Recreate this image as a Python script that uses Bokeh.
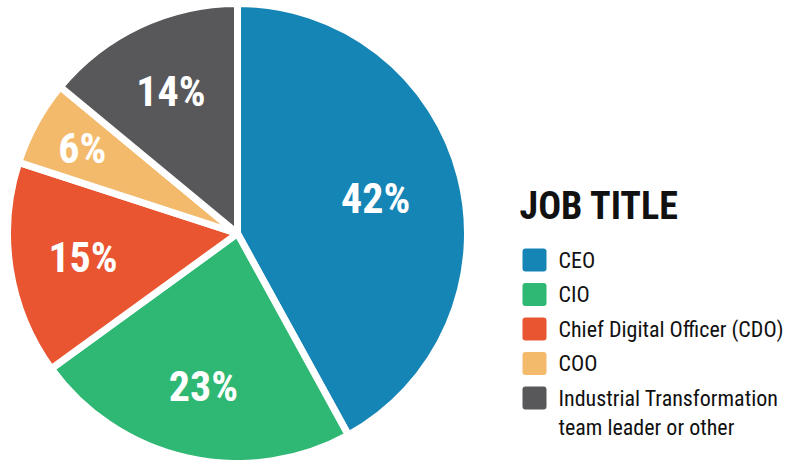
import numpy as np
from bokeh.plotting import figure
from bokeh.models import Range1d, ColumnDataSource
from bokeh.core.properties import value
from bokeh.embed import file_html
from bokeh.resources import INLINE

# ---- data ----
categories = ["CEO", "CIO", "Chief Digital Officer (CDO)", "COO",
              "Industrial Transformation\nteam leader or other"]
shares = [42, 23, 15, 6, 14]
colors = ["#1585B5", "#2EB873", "#E85530", "#F3BA6C", "#58585A"]
legend_title = "JOB TITLE"

# label placement (radial fraction of radius) - layout only
label_r = [0.62, 0.68, 0.68, 0.77, 0.68]

FONT = "'Roboto Condensed', 'Liberation Sans Narrow', Roboto, sans-serif"

W, H = 788, 460
p = figure(width=W, height=H, x_range=Range1d(0, W), y_range=Range1d(0, H),
           output_backend="svg", toolbar_location=None, min_border=0,
           x_axis_type=None, y_axis_type=None)
p.grid.visible = False
p.outline_line_color = None
p.background_fill_color = "white"
p.border_fill_color = "white"

# ---- pie ----
cx, cy, R = 237, 227, 230
frac = np.array(shares, dtype=float) / sum(shares)
ends_cum = np.cumsum(frac)
starts_cum = ends_cum - frac
start_angle = np.pi / 2 - starts_cum * 2 * np.pi
end_angle = np.pi / 2 - ends_cum * 2 * np.pi
mid = (start_angle + end_angle) / 2
lr = np.array(label_r) * R
src = ColumnDataSource(dict(
    start=start_angle, end=end_angle, color=colors,
    lx=cx + lr * np.cos(mid), ly=cy + lr * np.sin(mid),
    lab=[f"{s}%" for s in shares],
))
p.wedge(x=cx, y=cy, radius=R, start_angle="start", end_angle="end",
        direction="clock", fill_color="color", line_color="white",
        line_width=7, source=src)
p.text(x="lx", y="ly", text="lab", source=src, text_color="white",
       text_font=value(FONT), text_font_style="bold", text_font_size="42px",
       text_align="center", text_baseline="middle")

# ---- legend ----
p.text(x=[519], y=[254.5], text=[legend_title], text_color="#111111",
       text_font=value(FONT), text_font_style="bold", text_font_size="38px",
       text_align="left", text_baseline="middle")

row_y = [200.5 - i * 34.5 for i in range(len(categories))]
sq_x, sq_w, sq_h = 534, 24, 23
n = len(categories)
p.quad(left=[sq_x - sq_w / 2] * n, right=[sq_x + sq_w / 2] * n,
       bottom=[y - sq_h / 2 for y in row_y], top=[y + sq_h / 2 for y in row_y],
       fill_color=colors, line_color=None, border_radius=3)

tx, ty, tt = [], [], []
for y, lab in zip(row_y, categories):
    for j, line in enumerate(lab.split("\n")):
        tx.append(558)
        ty.append(y - j * 29)
        tt.append(line)
p.text(x=tx, y=ty, text=tt, text_color="#111111", text_font=value(FONT),
       text_font_size="22px", text_align="left", text_baseline="middle")

open("out.html", "w").write(file_html(p, INLINE))
